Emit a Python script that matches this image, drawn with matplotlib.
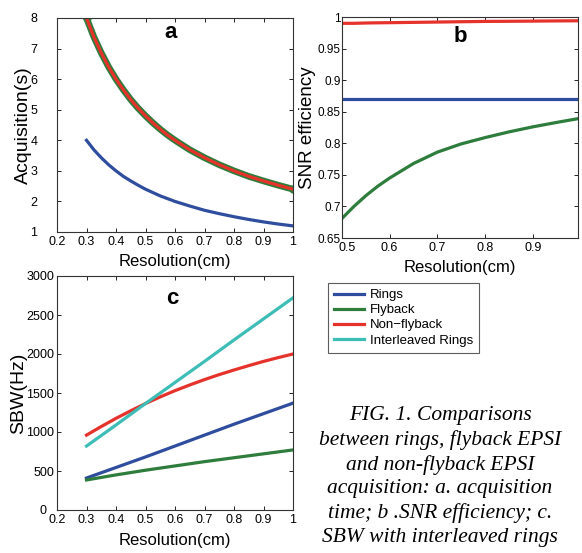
import matplotlib
matplotlib.use("Agg")
import matplotlib.pyplot as plt
from matplotlib.transforms import ScaledTranslation

plt.rcParams['font.family'] = ['Liberation Sans', 'DejaVu Sans']

BLUE = '#2f4d9e'
GREEN = '#2e7d3c'
RED = '#e5322b'
CYAN = '#3dbdb6'

# panel a: acquisition time (s) vs resolution (cm)
res_a = [0.3, 0.325, 0.35, 0.375, 0.4, 0.425, 0.45, 0.475, 0.5, 0.525, 0.55, 0.575, 0.6,
         0.65, 0.7, 0.75, 0.8, 0.85, 0.9, 0.95, 1.0]
acq_epsi = [8.0, 7.38, 6.86, 6.4, 6.0, 5.65, 5.33, 5.05, 4.8, 4.57, 4.36, 4.17, 4.0,
            3.69, 3.43, 3.2, 3.0, 2.82, 2.67, 2.53, 2.4]
acq_rings = [4.0, 3.69, 3.43, 3.2, 3.0, 2.82, 2.67, 2.53, 2.4, 2.29, 2.18, 2.09, 2.0,
             1.85, 1.71, 1.6, 1.5, 1.41, 1.33, 1.26, 1.2]

# panel b: SNR efficiency vs resolution (cm)
res_b = [0.5, 0.525, 0.55, 0.575, 0.6, 0.65, 0.7, 0.75, 0.8, 0.85, 0.9, 0.95, 0.995]
snr_rings = [0.87] * len(res_b)
snr_flyback = [0.681, 0.700, 0.717, 0.732, 0.745, 0.768, 0.786, 0.799, 0.809, 0.818,
               0.826, 0.833, 0.839]
snr_nonflyback = [0.990, 0.990, 0.9905, 0.9908, 0.991, 0.9915, 0.992, 0.9925, 0.993,
                  0.9932, 0.9935, 0.9938, 0.994]

# panel c: SBW (Hz) vs resolution (cm)
res_c = [0.3, 0.4, 0.5, 0.6, 0.7, 0.8, 0.9, 1.0]
sbw_rings = [410, 545, 680, 820, 960, 1100, 1235, 1370]
sbw_flyback = [385, 450, 510, 565, 620, 670, 720, 770]
sbw_interleaved = [820, 1090, 1365, 1635, 1905, 2180, 2450, 2720]
res_c_fine = [0.3, 0.35, 0.4, 0.45, 0.5, 0.55, 0.6, 0.65, 0.7, 0.75, 0.8, 0.85, 0.9, 0.95, 1.0]
sbw_nonflyback = [960, 1070, 1175, 1272, 1365, 1450, 1530, 1603, 1672, 1736, 1795, 1851,
                  1905, 1954, 2000]

labels = ['Rings', 'Flyback', 'Non\u2212flyback', 'Interleaved Rings']

caption = ("FIG. 1. Comparisons\nbetween rings, flyback EPSI\nand non-flyback EPSI\n"
           "acquisition: a. acquisition\ntime; b .SNR efficiency; c.\nSBW with interleaved rings")

W, H = 582, 553
fig = plt.figure(figsize=(W / 100, H / 100), dpi=100)


def box(x0, y0, x1, y1):
    return [x0 / W, 1 - y1 / H, (x1 - x0) / W, (y1 - y0) / H]


def style(ax):
    ax.tick_params(direction='in', top=True, right=True, length=3, width=0.6,
                   labelsize=9, pad=3)
    for s in ax.spines.values():
        s.set_linewidth(0.8)
        s.set_color('#333333')


def nudge(label, dx, dy):
    label.set_transform(label.get_transform() + ScaledTranslation(dx / 100, dy / 100, fig.dpi_scale_trans))


lw = 2.3
xt = [0.2, 0.3, 0.4, 0.5, 0.6, 0.7, 0.8, 0.9, 1]
xtl = ['0.2', '0.3', '0.4', '0.5', '0.6', '0.7', '0.8', '0.9', '1']

ax_a = fig.add_axes(box(57, 18, 293, 232))
ax_a.plot(res_a, acq_rings, color=BLUE, lw=lw)
ax_a.plot(res_a, acq_epsi, color=GREEN, lw=4.8, marker='o', ms=5, markevery=[0, -1])
ax_a.plot(res_a, acq_epsi, color=RED, lw=2.3)
ax_a.set_xlim(0.2, 1)
ax_a.set_ylim(1, 8)
ax_a.set_xticks(xt)
ax_a.set_xticklabels(xtl)
ax_a.set_yticks(range(1, 9))
style(ax_a)
ax_a.tick_params(axis='y', pad=14)
ax_a.set_xlabel('Resolution(cm)', fontsize=12, labelpad=4)
ax_a.set_ylabel('Acquisition(s)', fontsize=14)
ax_a.yaxis.set_label_coords(-0.106, 0.5)
ax_a.text(0.48, 0.93, 'a', transform=ax_a.transAxes, ha='center', va='center',
          fontsize=16, fontweight='bold')

ax_b = fig.add_axes(box(342, 17, 578, 238))
ax_b.plot(res_b, snr_nonflyback, color=RED, lw=lw)
ax_b.plot(res_b, snr_rings, color=BLUE, lw=lw)
ax_b.plot(res_b, snr_flyback, color=GREEN, lw=lw)
ax_b.set_xlim(0.5, 0.995)
ax_b.set_ylim(0.65, 1)
ax_b.set_xticks([0.5, 0.6, 0.7, 0.8, 0.9])
ax_b.set_yticks([0.65, 0.7, 0.75, 0.8, 0.85, 0.9, 0.95, 1])
ax_b.set_yticklabels(['0.65', '0.7', '0.75', '0.8', '0.85', '0.9', '0.95', '1'])
style(ax_b)
ax_b.tick_params(axis='y', pad=1, labelsize=8.5)
ax_b.set_xlabel('Resolution(cm)', fontsize=12, labelpad=4)
ax_b.set_ylabel('SNR efficiency', fontsize=13.5)
ax_b.yaxis.set_label_coords(-0.11, 0.5)
nudge(ax_b.get_xticklabels()[0], 5, 0)
ax_b.text(0.50, 0.91, 'b', transform=ax_b.transAxes, ha='center', va='center',
          fontsize=16, fontweight='bold')

ax_c = fig.add_axes(box(57, 276, 293, 510))
ax_c.plot(res_c, sbw_rings, color=BLUE, lw=lw, label=labels[0])
ax_c.plot(res_c, sbw_flyback, color=GREEN, lw=lw, label=labels[1])
ax_c.plot(res_c_fine, sbw_nonflyback, color=RED, lw=lw, label=labels[2])
ax_c.plot(res_c, sbw_interleaved, color=CYAN, lw=lw, label=labels[3])
ax_c.set_xlim(0.2, 1)
ax_c.set_ylim(0, 3000)
ax_c.set_xticks(xt)
ax_c.set_xticklabels(xtl)
ax_c.set_yticks(range(0, 3001, 500))
style(ax_c)
ax_c.tick_params(axis='y', pad=2)
ax_c.set_xlabel('Resolution(cm)', fontsize=12, labelpad=5)
ax_c.set_ylabel('SBW(Hz)', fontsize=14)
ax_c.yaxis.set_label_coords(-0.127, 0.5)
nudge(ax_c.get_yticklabels()[0], -8, 0)
ax_c.text(0.49, 0.905, 'c', transform=ax_c.transAxes, ha='center', va='center',
          fontsize=16, fontweight='bold')

handles, hl = ax_c.get_legend_handles_labels()
leg = fig.legend(handles, hl, loc='upper left', bbox_to_anchor=(328 / W, 1 - 283 / H),
                 fontsize=9.5, frameon=True, fancybox=False, handlelength=2.3,
                 labelspacing=0.22, handletextpad=0.4, borderpad=0.45, borderaxespad=0)
leg.get_frame().set_edgecolor('#333333')
leg.get_frame().set_linewidth(0.8)

fig.text(440 / W, 1 - 406 / H, caption, ha='center', va='top', fontsize=15.5,
         family=['Liberation Serif', 'DejaVu Serif'], style='italic', linespacing=1.33)

fig.savefig('out.png', dpi=100)
